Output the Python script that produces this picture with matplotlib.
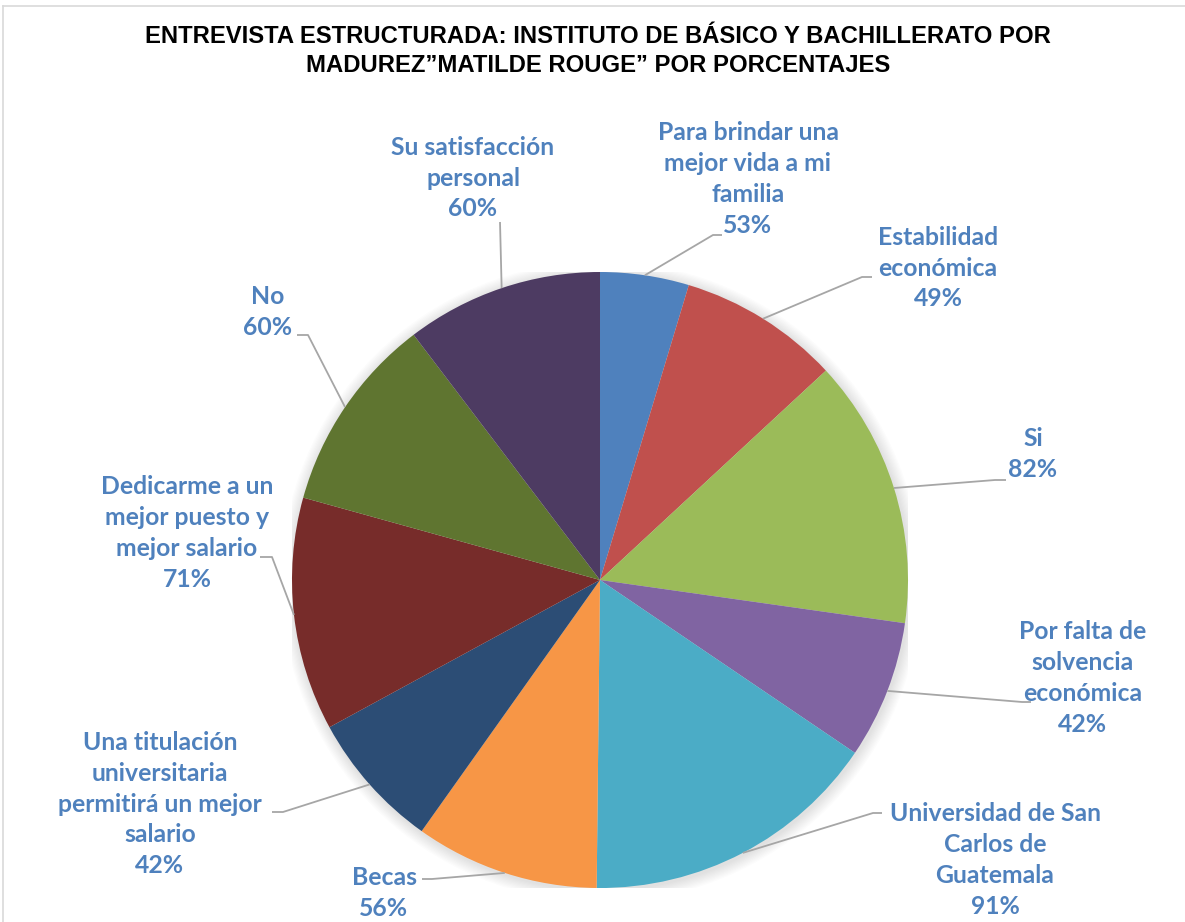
import numpy as np
import matplotlib
matplotlib.use("Agg")
import matplotlib.pyplot as plt
from matplotlib.patches import Circle

# ---- data ----
categories = [
    "Para brindar una\nmejor vida a mi\nfamilia",
    "Estabilidad\neconómica",
    "Si",
    "Por falta de\nsolvencia\neconómica",
    "Universidad de San\nCarlos de\nGuatemala",
    "Becas",
    "Una titulación\nuniversitaria\npermitirá un mejor\nsalario",
    "Dedicarme a un\nmejor puesto y\nmejor salario",
    "No",
    "Su satisfacción\npersonal",
]
slice_values = [27, 49, 82, 42, 91, 56, 42, 71, 60, 60]
label_percent = [53, 49, 82, 42, 91, 56, 42, 71, 60, 60]
colors = ["#4F81BD", "#C0504D", "#9BBB59", "#8064A2", "#4BACC6",
          "#F79646", "#2C4D75", "#772C2A", "#5F7530", "#4D3B62"]
title = "ENTREVISTA ESTRUCTURADA: INSTITUTO DE BÁSICO Y BACHILLERATO POR\nMADUREZ\u201dMATILDE ROUGE\u201d POR PORCENTAJES"

# label layout (pixel positions, top-left origin)
label_centers = [(748, 179), (938, 268), (1033, 454), (1083, 678), (995, 860),
                 (384, 893), (160, 804), (187, 533), (268, 312), (473, 178)]
leader_elbow = [(713, 235), (862, 277), (995, 480), (1022, 702), (873, 813),
                (432, 879), (283, 812), (272, 557), (308, 335), (500, 222)]
leader_end = [(722, 235), (872, 277), (1006, 480), (1031, 702), (882, 813),
              (422, 879), (272, 812), (260, 557), (297, 335), (500, 222)]

W, H = 1185, 922
fig = plt.figure(figsize=(W / 100, H / 100), dpi=100)
fig.patch.set_facecolor("white")

# pie axes
cx, cy, R = 600, 580, 308
ax = fig.add_axes([(cx - R) / W, (H - cy - R) / H, 2 * R / W, 2 * R / H])
ax.axis("off")

# soft shadow
for i in range(10):
    ax.add_patch(Circle((0.004, -0.006), 1 + 0.004 * (10 - i), color="black",
                        alpha=0.012, lw=0, zorder=0))

wedges, _ = ax.pie(slice_values, colors=colors, startangle=90, counterclock=False,
                   radius=1, wedgeprops=dict(linewidth=0), normalize=True)
for w in wedges:
    w.set_zorder(2)
ax.set_xlim(-1, 1)
ax.set_ylim(-1, 1)
ax.set_aspect("equal")

# overlay axes in pixel coordinates
ov = fig.add_axes([0, 0, 1, 1])
ov.set_xlim(0, W)
ov.set_ylim(H, 0)
ov.axis("off")
ov.patch.set_alpha(0)

fig.canvas.draw()
inv = ov.transData.inverted()

# border lines
ov.plot([3, W], [6, 6], color="#D9D9D9", lw=1.2)
ov.plot([3, 3], [6, H], color="#D9D9D9", lw=1.2)

ov.text(598, 51, title, ha="center", va="center", fontsize=17.2,
        fontweight="bold", family="Liberation Sans", color="black",
        linespacing=1.3)

for i, w in enumerate(wedges):
    mid = np.deg2rad((w.theta1 + w.theta2) / 2)
    p = ax.transData.transform((np.cos(mid), np.sin(mid)))
    px, py = inv.transform(p)
    ex, ey = leader_elbow[i]
    tx, ty = leader_end[i]
    ov.plot([px, ex, tx], [py, ey, ty], color="#A6A6A6", lw=1.3,
            solid_capstyle="butt")
    lx, ly = label_centers[i]
    ov.text(lx, ly, f"{categories[i]}\n{label_percent[i]}%", ha="center",
            va="center", fontsize=17.8, fontweight="bold", family="Lato",
            color="#4F81BD", linespacing=1.42)

fig.savefig("out.png", dpi=100, facecolor="white")
